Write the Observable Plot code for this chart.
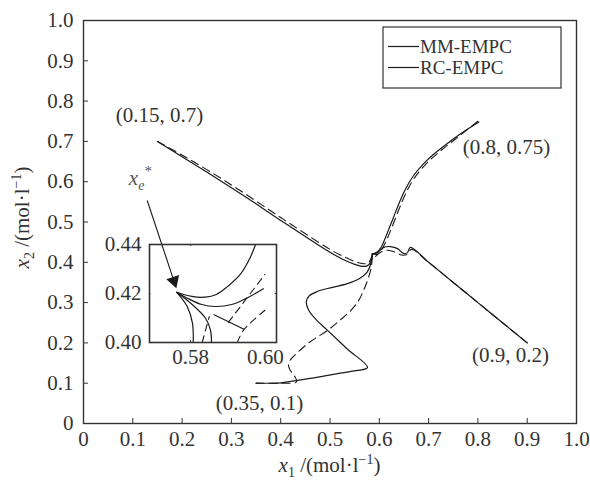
<!DOCTYPE html>
<html><head><meta charset="utf-8">
<script src="https://cdn.jsdelivr.net/npm/d3@7"></script>
<script src="https://cdn.jsdelivr.net/npm/@observablehq/plot@0.6"></script>
<style>
body{margin:0;background:#fff;}
#wrap{position:relative;width:590px;height:482px;font-family:"Liberation Serif",serif;}
#inset{position:absolute;left:89px;top:242px;}
</style></head><body><div id="wrap"><div id="main"></div><div id="inset"></div></div>
<script>
// ---- tick values ----
const xTicks = [0,0.1,0.2,0.3,0.4,0.5,0.6,0.7,0.8,0.9,1.0];
const yTicks = [0,0.1,0.2,0.3,0.4,0.5,0.6,0.7,0.8,0.9,1.0];
const insetXTicks = [0.58,0.60];
const insetYTicks = [0.40,0.42,0.44];
const insetXTickMarks = [0.58];
const insetYTickMarks = [0.42];

// ---- MM-EMPC (solid) trajectories ----
const mm1X = [0.15,0.2,0.25,0.3,0.35,0.4,0.45,0.5,0.53,0.55,0.565,0.575,0.582,0.586];
const mm1Y = [0.70,0.662,0.624,0.585,0.545,0.504,0.464,0.425,0.405,0.395,0.390,0.391,0.400,0.421];
const mm2X = [0.802,0.765,0.738,0.712,0.690,0.670,0.655,0.642,0.629,0.616,0.604,0.594,0.586];
const mm2Y = [0.748,0.719,0.695,0.670,0.645,0.616,0.586,0.552,0.512,0.472,0.438,0.424,0.421];
const mm3X = [0.9,0.85,0.80,0.75,0.70,0.663,0.657,0.649,0.637,0.623,0.609,0.596,0.586];
const mm3Y = [0.2,0.25,0.30,0.35,0.40,0.437,0.424,0.422,0.434,0.439,0.437,0.424,0.421];
const mm4X = [0.35,0.40,0.434,0.47,0.507,0.545,0.576,0.535,0.495,0.47,0.456,0.452,0.458,0.475,0.495,0.535,0.56,0.575,0.583,0.586];
const mm4Y = [0.10,0.101,0.107,0.114,0.122,0.130,0.139,0.185,0.231,0.260,0.283,0.303,0.317,0.328,0.335,0.347,0.360,0.375,0.397,0.421];

// ---- RC-EMPC (dashed) trajectories ----
const rc1X = [0.15,0.2,0.25,0.3,0.35,0.4,0.45,0.5,0.53,0.55,0.565,0.578,0.586];
const rc1Y = [0.70,0.666,0.630,0.592,0.552,0.511,0.471,0.432,0.413,0.402,0.397,0.399,0.418];
const rc2X = [0.80,0.767,0.741,0.716,0.694,0.674,0.659,0.646,0.633,0.620,0.607,0.596,0.586];
const rc2Y = [0.75,0.718,0.693,0.668,0.643,0.614,0.584,0.550,0.510,0.470,0.436,0.420,0.421];
const rc3X = [0.9,0.85,0.80,0.75,0.70,0.665,0.657,0.645,0.63,0.615,0.60,0.59,0.586];
const rc3Y = [0.2,0.25,0.30,0.35,0.40,0.432,0.420,0.418,0.426,0.43,0.423,0.413,0.421];
const rc4X = [0.35,0.40,0.432,0.428,0.418,0.416,0.424,0.434,0.46,0.495,0.52,0.542,0.558,0.568,0.578,0.584,0.586];
const rc4Y = [0.10,0.10,0.103,0.118,0.135,0.150,0.164,0.176,0.203,0.231,0.256,0.28,0.305,0.33,0.362,0.39,0.421];

// ---- inset (zoom near x_e*) ----
const inMMaX = [0.5763,0.5803,0.5839,0.5869,0.5897,0.5934,0.5960,0.5974];
const inMMaY = [0.4205,0.4188,0.4185,0.4196,0.4226,0.4280,0.4348,0.4400];
const inMMbX = [0.5763,0.5795,0.5830,0.5866,0.5910,0.5955,0.5995];
const inMMbY = [0.4205,0.4178,0.4155,0.4147,0.4155,0.4185,0.4219];
const inMMcX = [0.5763,0.5791,0.5805,0.5807];
const inMMcY = [0.4205,0.4147,0.4079,0.4000];
const inMMdX = [0.5763,0.5805,0.5840,0.5853,0.5856];
const inMMdY = [0.4205,0.4154,0.4099,0.4052,0.4000];
const inMMeX = [0.5863,0.5943];
const inMMeY = [0.4113,0.4054];
const inRCaX = [0.5901,0.5999];
const inRCaY = [0.4082,0.4278];
const inRCbX = [0.5925,0.5943,0.6002];
const inRCbY = [0.4000,0.4053,0.4135];
const inRCcX = [0.5831,0.5850];
const inRCcY = [0.4000,0.4106];

// ---- annotations ----
const annText = ["(0.15, 0.7)","(0.8, 0.75)","(0.9, 0.2)","(0.35, 0.1)"];
const annX = [0.154,0.858,0.866,0.357];
const annY = [0.764,0.685,0.169,0.050];
const arrowFrom = [0.1292,0.5533];
const arrowTo = [0.1834,0.354];
const arrowAngle = 161.6;
const xeLabelPos = [0.093,0.59];
const legendNames = ["MM-EMPC","RC-EMPC"];

const rows = (xs, ys, s) => xs.map((x,i)=>({x, y: ys[i], s}));
const mmSmooth = [...rows(mm1X,mm1Y,"1"),...rows(mm2X,mm2Y,"2")];
const mmSharp = [...rows(mm3X,mm3Y,"3"),...rows(mm4X,mm4Y,"4")];
const rcSmooth = [...rows(rc1X,rc1Y,"1"),...rows(rc2X,rc2Y,"2")];
const rcSharp = [...rows(rc3X,rc3Y,"3"),...rows(rc4X,rc4Y,"4")];
const inMM = [...rows(inMMaX,inMMaY,"a"),...rows(inMMbX,inMMbY,"b"),...rows(inMMcX,inMMcY,"c"),...rows(inMMdX,inMMdY,"d"),...rows(inMMeX,inMMeY,"e")];
const inRC = [...rows(inRCaX,inRCaY,"a"),...rows(inRCbX,inRCbY,"b"),...rows(inRCcX,inRCcY,"c")];
const ann = annText.map((t,i)=>({t, x: annX[i], y: annY[i]}));
const arrowRow = [{x1: arrowFrom[0], y1: arrowFrom[1], x2: arrowTo[0], y2: arrowTo[1]}];

const fmt = d => d === 0 ? "0" : d.toFixed(1);
const INK = "#1a1a1a", AX = "#333";
const FS = 21;
const solid = {x: "x", y: "y", z: "s", stroke: INK, strokeWidth: 1.2};
const dashed = {x: "x", y: "y", z: "s", stroke: INK, strokeWidth: 1.1, strokeDasharray: "8,5"};

const main = Plot.plot({
  width: 590, height: 482,
  marginLeft: 83, marginRight: 14, marginTop: 20, marginBottom: 59,
  x: {domain: [0,1]}, y: {domain: [0,1]},
  style: {fontFamily: "'Liberation Serif', serif", fontSize: FS + "px", color: AX, background: "transparent"},
  marks: [
    Plot.ruleX(xTicks, {y1: 0, y2: 0.0125, stroke: AX, strokeWidth: 1}),
    Plot.ruleY(yTicks, {x1: 0, x2: 0.0101, stroke: AX, strokeWidth: 1}),
    Plot.axisX(xTicks, {tickSize: 0, tickPadding: 8, tickFormat: fmt, label: null, fontSize: FS, fill: AX}),
    Plot.axisY(yTicks, {tickSize: 0, tickPadding: 10, tickFormat: fmt, label: null, fontSize: FS, fill: AX}),
    Plot.line(rcSmooth, {...dashed, curve: "natural"}),
    Plot.line(rcSharp, {...dashed, curve: "catmull-rom"}),
    Plot.line(mmSmooth, {...solid, curve: "natural"}),
    Plot.line(mmSharp, {...solid, curve: "catmull-rom"}),
    Plot.text(ann, {x: "x", y: "y", text: "t", fontSize: FS, fill: AX}),
    Plot.link(arrowRow, {x1: "x1", y1: "y1", x2: "x2", y2: "y2", stroke: INK, strokeWidth: 1.1}),
    Plot.dot(arrowRow, {x: "x2", y: "y2", symbol: "triangle", r: 5, fill: INK, stroke: "none", rotate: arrowAngle}),
    Plot.frame({stroke: AX, strokeWidth: 1.4})
  ]
});
document.getElementById("main").appendChild(main);

const sx = main.scale("x"), sy = main.scale("y");
const svg = d3.select(main);
const ff = "'Liberation Serif', serif";

// axis titles
function title(g, sub) {
  g.append("tspan").attr("font-style","italic").text("x");
  g.append("tspan").attr("font-size",14).attr("dy",5).text(sub);
  g.append("tspan").attr("dy",-5).text(" /(mol\u00b7l");
  g.append("tspan").attr("font-size",14).attr("dy",-8).text("\u22121");
  g.append("tspan").attr("dy",8).text(")");
}
const xmid = (sx.apply(0)+sx.apply(1))/2, ymid = (sy.apply(0)+sy.apply(1))/2;
const xt = svg.append("text").attr("x", xmid).attr("y", 472).attr("text-anchor","middle")
  .attr("font-family", ff).attr("font-size", FS).attr("fill", AX);
title(xt, "1");
const yt = svg.append("text").attr("transform", `translate(29,${ymid - 4}) rotate(-90)`).attr("text-anchor","middle")
  .attr("font-family", ff).attr("font-size", FS).attr("fill", AX);
title(yt, "2");

// x_e* label
const xe = svg.append("text").attr("x", sx.apply(xeLabelPos[0])).attr("y", sy.apply(xeLabelPos[1]))
  .attr("text-anchor","start").attr("font-family", ff).attr("font-size", FS).attr("fill", "#555");
xe.append("tspan").attr("font-style","italic").text("x");
xe.append("tspan").attr("font-size",14).attr("font-style","italic").attr("dy",5).text("e");
xe.append("tspan").attr("font-size",15).attr("dy",-14).text("*");

// legend
const LFS = 19;
const lg = svg.append("g").attr("font-family", ff).attr("font-size", LFS).attr("fill", AX).attr("text-anchor","start");
lg.append("rect").attr("x",383).attr("y",27).attr("width",178).attr("height",61)
  .attr("fill","white").attr("stroke",AX).attr("stroke-width",1.2);
legendNames.forEach((n,i) => {
  const y = 46.5 + i*21;
  lg.append("line").attr("x1",388).attr("x2",419).attr("y1",y).attr("y2",y).attr("stroke",INK).attr("stroke-width",1.2);
  lg.append("text").attr("x",420).attr("y",y+6.5).attr("text-anchor","start").text(n);
});

// inset
const inset = Plot.plot({
  width: 189, height: 130,
  marginLeft: 60, marginRight: 2, marginTop: 2, marginBottom: 30,
  x: {domain: [0.569,0.603]}, y: {domain: [0.40,0.44]},
  style: {fontFamily: "'Liberation Serif', serif", fontSize: FS + "px", color: AX, background: "transparent", overflow: "visible"},
  marks: [
    Plot.ruleX(insetXTickMarks, {y1: 0.40, y2: 0.4008, stroke: AX}),
    Plot.ruleX(insetXTickMarks, {y1: 0.4392, y2: 0.44, stroke: AX}),
    Plot.ruleY(insetYTickMarks, {x1: 0.569, x2: 0.56935, stroke: AX}),
    Plot.ruleY(insetYTickMarks, {x1: 0.60265, x2: 0.603, stroke: AX}),
    Plot.axisX(insetXTicks, {tickSize: 0, tickPadding: 7, tickFormat: d => d.toFixed(2), label: null, fontSize: FS, fill: AX}),
    Plot.axisY(insetYTicks, {tickSize: 0, tickPadding: 8, tickFormat: d => d.toFixed(2), label: null, fontSize: FS, fill: AX}),
    Plot.line(inRC, {...dashed, strokeDasharray: "7,5", curve: "catmull-rom", clip: true}),
    Plot.line(inMM, {...solid, curve: "catmull-rom", clip: true}),
    Plot.frame({stroke: AX, strokeWidth: 1.6})
  ]
});
document.getElementById("inset").appendChild(inset);
</script></body></html>
